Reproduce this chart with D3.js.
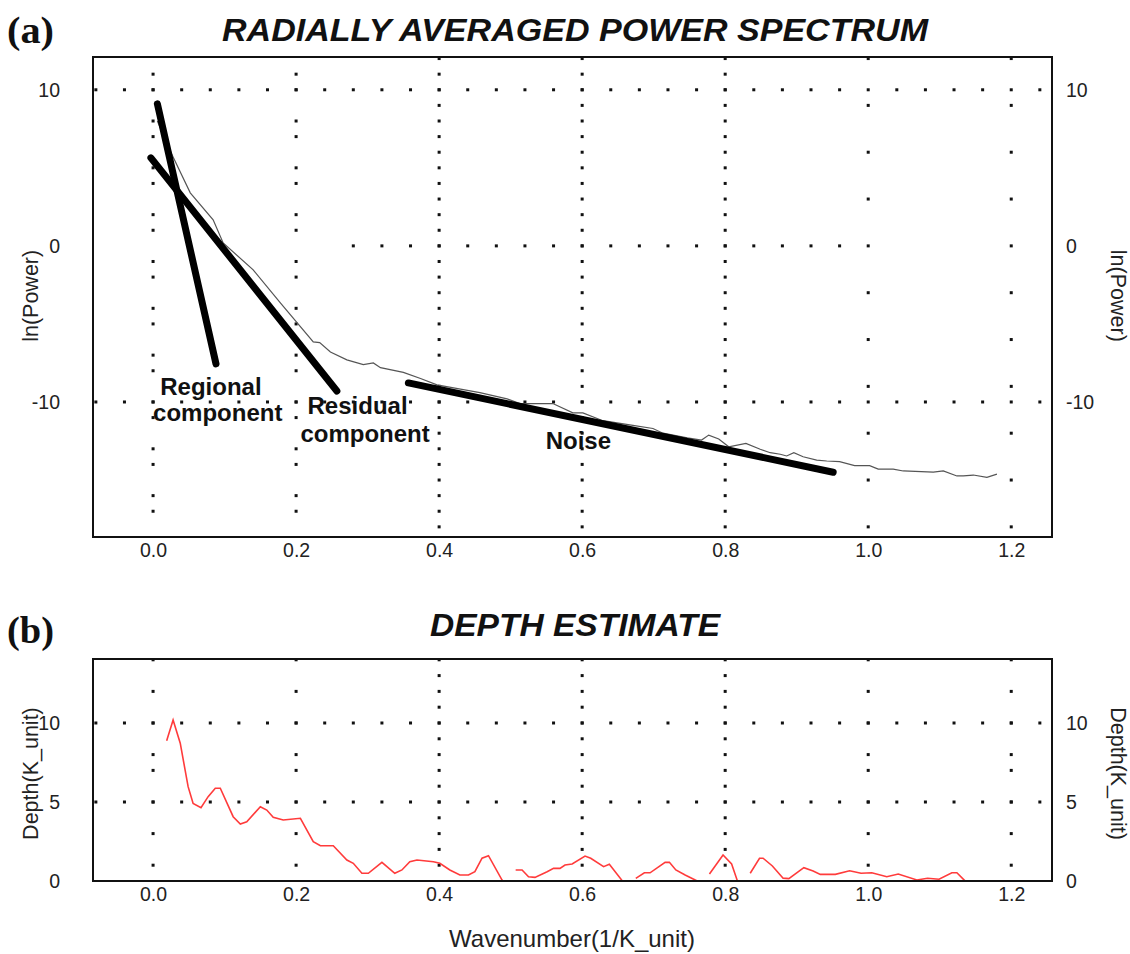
<!DOCTYPE html>
<html>
<head>
<meta charset="utf-8">
<script src="https://cdn.jsdelivr.net/npm/d3@7"></script>
<style>
  body { margin: 0; background: #fff; }
  svg { display: block; }
</style>
</head>
<body>
<div id="chart"></div>
<script>
// Power spectrum curve (wavenumber vs ln(Power))
var specWave = [0.006, 0.020, 0.028, 0.052, 0.084, 0.098, 0.140, 0.178, 0.224, 0.233, 0.248, 0.271,
  0.294, 0.308, 0.318, 0.350, 0.374, 0.397, 0.457, 0.495, 0.513, 0.531, 0.559, 0.587, 0.601, 0.629,
  0.671, 0.699, 0.713, 0.747, 0.767, 0.777, 0.791, 0.805, 0.829, 0.849, 0.863, 0.877, 0.886, 0.896,
  0.909, 0.928, 0.942, 0.960, 0.981, 1.002, 1.014, 1.035, 1.049, 1.091, 1.105, 1.124, 1.133, 1.147,
  1.166, 1.180];
var specPower = [8.0, 6.5, 5.7, 3.4, 1.67, 0.19, -1.54, -3.65, -6.15, -6.2, -6.8, -7.3,
  -7.6, -7.5, -7.8, -8.1, -8.5, -8.9, -9.4, -9.8, -10.1, -10.1, -10.1, -10.7, -10.7, -11.2,
  -11.5, -11.7, -12.0, -12.3, -12.44, -12.12, -12.37, -12.87, -12.65, -13.03, -13.25, -13.35, -13.46, -13.25,
  -13.51, -13.72, -13.78, -13.82, -14.08, -14.08, -14.30, -14.30, -14.42, -14.49, -14.42, -14.74, -14.74, -14.68,
  -14.83, -14.62];

// straight line fits (start / end)
var fitNames = ["regional", "residual", "noise"];
var fitWave = [[0.006, 0.088], [-0.003, 0.257], [0.357, 0.951]];
var fitPower = [[9.1, -7.56], [5.64, -9.3], [-8.78, -14.5]];

// Depth estimate (null = gap)
var depthWave = [0.019, 0.028, 0.038, 0.049, 0.056, 0.067, 0.077, 0.087, 0.094, 0.112, 0.122, 0.131,
  0.150, 0.159, 0.168, 0.182, 0.206, 0.224, 0.234, 0.252, 0.271, 0.280, 0.292, 0.301, 0.320, 0.338,
  0.348, 0.359, 0.369, 0.392, 0.401, 0.415, 0.429, 0.441, 0.450, 0.460, 0.469, 0.488, 0.495, 0.501,
  0.507, 0.516, 0.525, 0.534, 0.551, 0.560, 0.569, 0.576, 0.586, 0.604, 0.612, 0.630, 0.638, 0.656, 0.664, 0.670,
  0.675, 0.687, 0.695, 0.716, 0.722, 0.731, 0.744, 0.760, 0.767, 0.772,
  0.778, 0.797, 0.809, 0.817, 0.822, 0.828,
  0.835, 0.848, 0.853, 0.866, 0.881, 0.889, 0.910, 0.923, 0.933, 0.954, 0.974, 0.990, 1.005, 1.026,
  1.042, 1.068, 1.083, 1.099, 1.117, 1.124, 1.135, 1.143];
var depthValue = [8.88, 10.19, 8.72, 5.97, 4.91, 4.64, 5.34, 5.87, 5.87, 4.07, 3.61, 3.75,
  4.70, 4.49, 4.03, 3.86, 3.97, 2.49, 2.23, 2.23, 1.33, 1.12, 0.49, 0.49, 1.18, 0.49,
  0.70, 1.22, 1.33, 1.22, 1.12, 0.70, 0.38, 0.38, 0.59, 1.44, 1.60, 0.06, -0.3, null,
  0.70, 0.70, 0.27, 0.23, 0.59, 0.80, 0.80, 1.01, 1.08, 1.58, 1.44, 0.91, 1.06, 0.02, -0.3, null,
  0.17, 0.52, 0.52, 1.18, 1.18, 0.70, 0.38, 0.02, -0.3, null,
  0.44, 1.65, 1.08, 0.02, -0.3, null,
  0.49, 1.44, 1.44, 0.95, 0.18, 0.15, 0.84, 0.63, 0.42, 0.42, 0.65, 0.49, 0.52, 0.27,
  0.44, 0.06, 0.17, 0.11, 0.52, 0.52, 0.02, -0.3];

// tick labels
var xTicks = [0, 0.2, 0.4, 0.6, 0.8, 1.0, 1.2];
var powerTicks = [10, 0, -10];
var depthTicks = [10, 5, 0];

var sans = "'Liberation Sans', Arial, sans-serif";
var serif = "'Liberation Serif', 'Times New Roman', serif";

var svgWidth = 1130;
var svgHeight = 954;

var svg = d3.select("#chart")
  .append("svg")
  .attr("width", svgWidth)
  .attr("height", svgHeight)
  .style("font-family", sans);

// plot boxes
var boxA = { left: 93, right: 1052, top: 57, bottom: 537 };
var boxB = { left: 93, right: 1052, top: 659, bottom: 881 };

var x = d3.scaleLinear().domain([-0.084, 1.257]).range([boxA.left, boxA.right]);
var yPower = d3.scaleLinear().domain([-18.65, 12.1]).range([boxA.bottom, boxA.top]);
var yDepth = d3.scaleLinear().domain([0, 14.05]).range([boxB.bottom, boxB.top]);

var defs = svg.append("defs");
defs.append("clipPath").attr("id", "clipA").append("rect")
  .attr("x", boxA.left).attr("y", boxA.top)
  .attr("width", boxA.right - boxA.left).attr("height", boxA.bottom - boxA.top);
defs.append("clipPath").attr("id", "clipB").append("rect")
  .attr("x", boxB.left).attr("y", boxB.top)
  .attr("width", boxB.right - boxB.left).attr("height", boxB.bottom - boxB.top);

// draw little square dots along grid lines
function drawDots(g, pts) {
  g.selectAll(null)
    .data(pts)
    .enter()
    .append("rect")
    .attr("x", d => d[0] - 1.5)
    .attr("y", d => d[1] - 1.5)
    .attr("width", 3)
    .attr("height", 3)
    .attr("fill", "#111");
}

function rowDots(yScale, yVal, kFrom, kTo) {
  var pts = [];
  for (var k = kFrom; k <= kTo; k++) pts.push([x(k * 0.04), yScale(yVal)]);
  return pts;
}

function colDots(yScale, xVal, units) {
  return units.map(u => [x(xVal), yScale(u)]);
}

// plain hyphen for negatives, like the original
var intFormat = d => String(d);

// ---------- chart (a) ----------
var gA = svg.append("g");
var allUnitsA = d3.range(-18, 13);
var sparseA = allUnitsA.filter(u => ((u % 3) + 3) % 3 !== 0);
var sparseA2 = allUnitsA.filter(u => ((u % 3) + 3) % 3 === 0);
var dotsA = [];
xTicks.forEach(function(t) {
  var units;
  if (t >= 0.39 && t <= 0.81) units = allUnitsA;
  else if (t < 0.3) units = sparseA;
  else units = sparseA2;
  dotsA = dotsA.concat(colDots(yPower, t, units));
});
dotsA = dotsA.concat(rowDots(yPower, 10, -2, 31));
dotsA = dotsA.concat(rowDots(yPower, -10, -2, 31));
dotsA = dotsA.concat(rowDots(yPower, 0, 7, 24));
drawDots(gA.append("g"), dotsA);

var specLine = d3.line()
  .x(d => x(d[0]))
  .y(d => yPower(d[1]));

gA.append("path")
  .datum(specWave.map((w, i) => [w, specPower[i]]))
  .attr("clip-path", "url(#clipA)")
  .attr("fill", "none")
  .attr("stroke", "#555")
  .attr("stroke-width", 1.2)
  .attr("d", specLine);

fitNames.forEach(function(name, i) {
  gA.append("path")
    .datum([[fitWave[i][0], fitPower[i][0]], [fitWave[i][1], fitPower[i][1]]])
    .attr("class", "fit-" + name)
    .attr("fill", "none")
    .attr("stroke", "#000")
    .attr("stroke-width", 7)
    .attr("stroke-linecap", "round")
    .attr("d", specLine);
});

// annotation labels (data coordinates of the text anchor)
var notes = [
  { text: "Regional", wx: 0.010, py: -9.55 },
  { text: "component", wx: 0.000, py: -11.25 },
  { text: "Residual", wx: 0.216, py: -10.75 },
  { text: "component", wx: 0.206, py: -12.55 },
  { text: "Noise", wx: 0.549, py: -13.0 }
];
gA.selectAll(null)
  .data(notes)
  .enter()
  .append("text")
  .attr("x", d => x(d.wx))
  .attr("y", d => yPower(d.py))
  .attr("font-size", 24)
  .attr("font-weight", "bold")
  .attr("fill", "#111")
  .text(d => d.text);

gA.append("rect")
  .attr("x", boxA.left).attr("y", boxA.top)
  .attr("width", boxA.right - boxA.left).attr("height", boxA.bottom - boxA.top)
  .attr("fill", "none").attr("stroke", "#111").attr("stroke-width", 2);

// axes
function styleAxis(g) {
  g.select(".domain").remove();
  g.selectAll("text").attr("font-size", 19.5).attr("fill", "#222")
    .attr("font-family", null);
}

gA.append("g")
  .attr("transform", `translate(0, ${boxA.bottom})`)
  .call(d3.axisBottom(x).tickValues(xTicks).tickFormat(d3.format(".1f")).tickSize(0).tickPadding(6))
  .call(styleAxis);
gA.append("g")
  .attr("transform", `translate(${boxA.left}, 0)`)
  .call(d3.axisLeft(yPower).tickValues(powerTicks).tickFormat(intFormat).tickSize(0).tickPadding(33))
  .call(styleAxis);
gA.append("g")
  .attr("transform", `translate(${boxA.right}, 0)`)
  .call(d3.axisRight(yPower).tickValues(powerTicks).tickFormat(intFormat).tickSize(0).tickPadding(14))
  .call(styleAxis);

gA.append("text")
  .attr("transform", `translate(38, ${yPower(-3.2)}) rotate(-90)`)
  .attr("text-anchor", "middle")
  .attr("font-size", 21.5).attr("fill", "#222")
  .text("ln(Power)");
gA.append("text")
  .attr("transform", `translate(1111, ${yPower(-3.2)}) rotate(90)`)
  .attr("text-anchor", "middle")
  .attr("font-size", 21.5).attr("fill", "#222")
  .text("ln(Power)");

svg.append("text")
  .attr("x", 575).attr("y", 41)
  .attr("text-anchor", "middle")
  .attr("font-size", 31).attr("font-weight", "bold").attr("font-style", "italic")
  .attr("textLength", 706).attr("lengthAdjust", "spacingAndGlyphs")
  .attr("fill", "#111")
  .text("RADIALLY AVERAGED POWER SPECTRUM");
svg.append("text")
  .attr("x", 7).attr("y", 43)
  .style("font-family", serif)
  .attr("font-size", 38).attr("font-weight", "bold")
  .attr("textLength", 47).attr("lengthAdjust", "spacingAndGlyphs")
  .attr("fill", "#111")
  .text("(a)");

// ---------- chart (b) ----------
var gB = svg.append("g");
var allUnitsB = d3.range(1, 15);
var sparseB = [14, 12, 10, 8, 7, 5, 3, 1];
var dotsB = [];
xTicks.forEach(function(t) {
  var units = (t >= 0.39 && t <= 0.81) ? allUnitsB : sparseB;
  dotsB = dotsB.concat(colDots(yDepth, t, units));
});
dotsB = dotsB.concat(rowDots(yDepth, 10, -2, 31));
dotsB = dotsB.concat(rowDots(yDepth, 5, -2, 31));
drawDots(gB.append("g"), dotsB);

var depthLine = d3.line()
  .defined(d => d[1] !== null)
  .x(d => x(d[0]))
  .y(d => yDepth(d[1]));

gB.append("path")
  .datum(depthWave.map((w, i) => [w, depthValue[i]]))
  .attr("clip-path", "url(#clipB)")
  .attr("fill", "none")
  .attr("stroke", "#ff3b3b")
  .attr("stroke-width", 1.6)
  .attr("d", depthLine);

gB.append("rect")
  .attr("x", boxB.left).attr("y", boxB.top)
  .attr("width", boxB.right - boxB.left).attr("height", boxB.bottom - boxB.top)
  .attr("fill", "none").attr("stroke", "#111").attr("stroke-width", 2);

gB.append("g")
  .attr("transform", `translate(0, ${boxB.bottom})`)
  .call(d3.axisBottom(x).tickValues(xTicks).tickFormat(d3.format(".1f")).tickSize(0).tickPadding(6))
  .call(styleAxis);
gB.append("g")
  .attr("transform", `translate(${boxB.left}, 0)`)
  .call(d3.axisLeft(yDepth).tickValues(depthTicks).tickFormat(intFormat).tickSize(0).tickPadding(33))
  .call(styleAxis);
gB.append("g")
  .attr("transform", `translate(${boxB.right}, 0)`)
  .call(d3.axisRight(yDepth).tickValues(depthTicks).tickFormat(intFormat).tickSize(0).tickPadding(14))
  .call(styleAxis);

gB.append("text")
  .attr("transform", `translate(38, ${yDepth(6.8)}) rotate(-90)`)
  .attr("text-anchor", "middle")
  .attr("font-size", 21.5).attr("fill", "#222")
  .text("Depth(K_unit)");
gB.append("text")
  .attr("transform", `translate(1111, ${yDepth(6.8)}) rotate(90)`)
  .attr("text-anchor", "middle")
  .attr("font-size", 21.5).attr("fill", "#222")
  .text("Depth(K_unit)");

svg.append("text")
  .attr("x", 575).attr("y", 636)
  .attr("text-anchor", "middle")
  .attr("font-size", 31).attr("font-weight", "bold").attr("font-style", "italic")
  .attr("textLength", 290).attr("lengthAdjust", "spacingAndGlyphs")
  .attr("fill", "#111")
  .text("DEPTH ESTIMATE");
svg.append("text")
  .attr("x", 7).attr("y", 643)
  .style("font-family", serif)
  .attr("font-size", 38).attr("font-weight", "bold")
  .attr("textLength", 47).attr("lengthAdjust", "spacingAndGlyphs")
  .attr("fill", "#111")
  .text("(b)");

svg.append("text")
  .attr("x", 572).attr("y", 947)
  .attr("text-anchor", "middle")
  .attr("font-size", 24).attr("fill", "#222")
  .text("Wavenumber(1/K_unit)");
</script>
</body>
</html>
